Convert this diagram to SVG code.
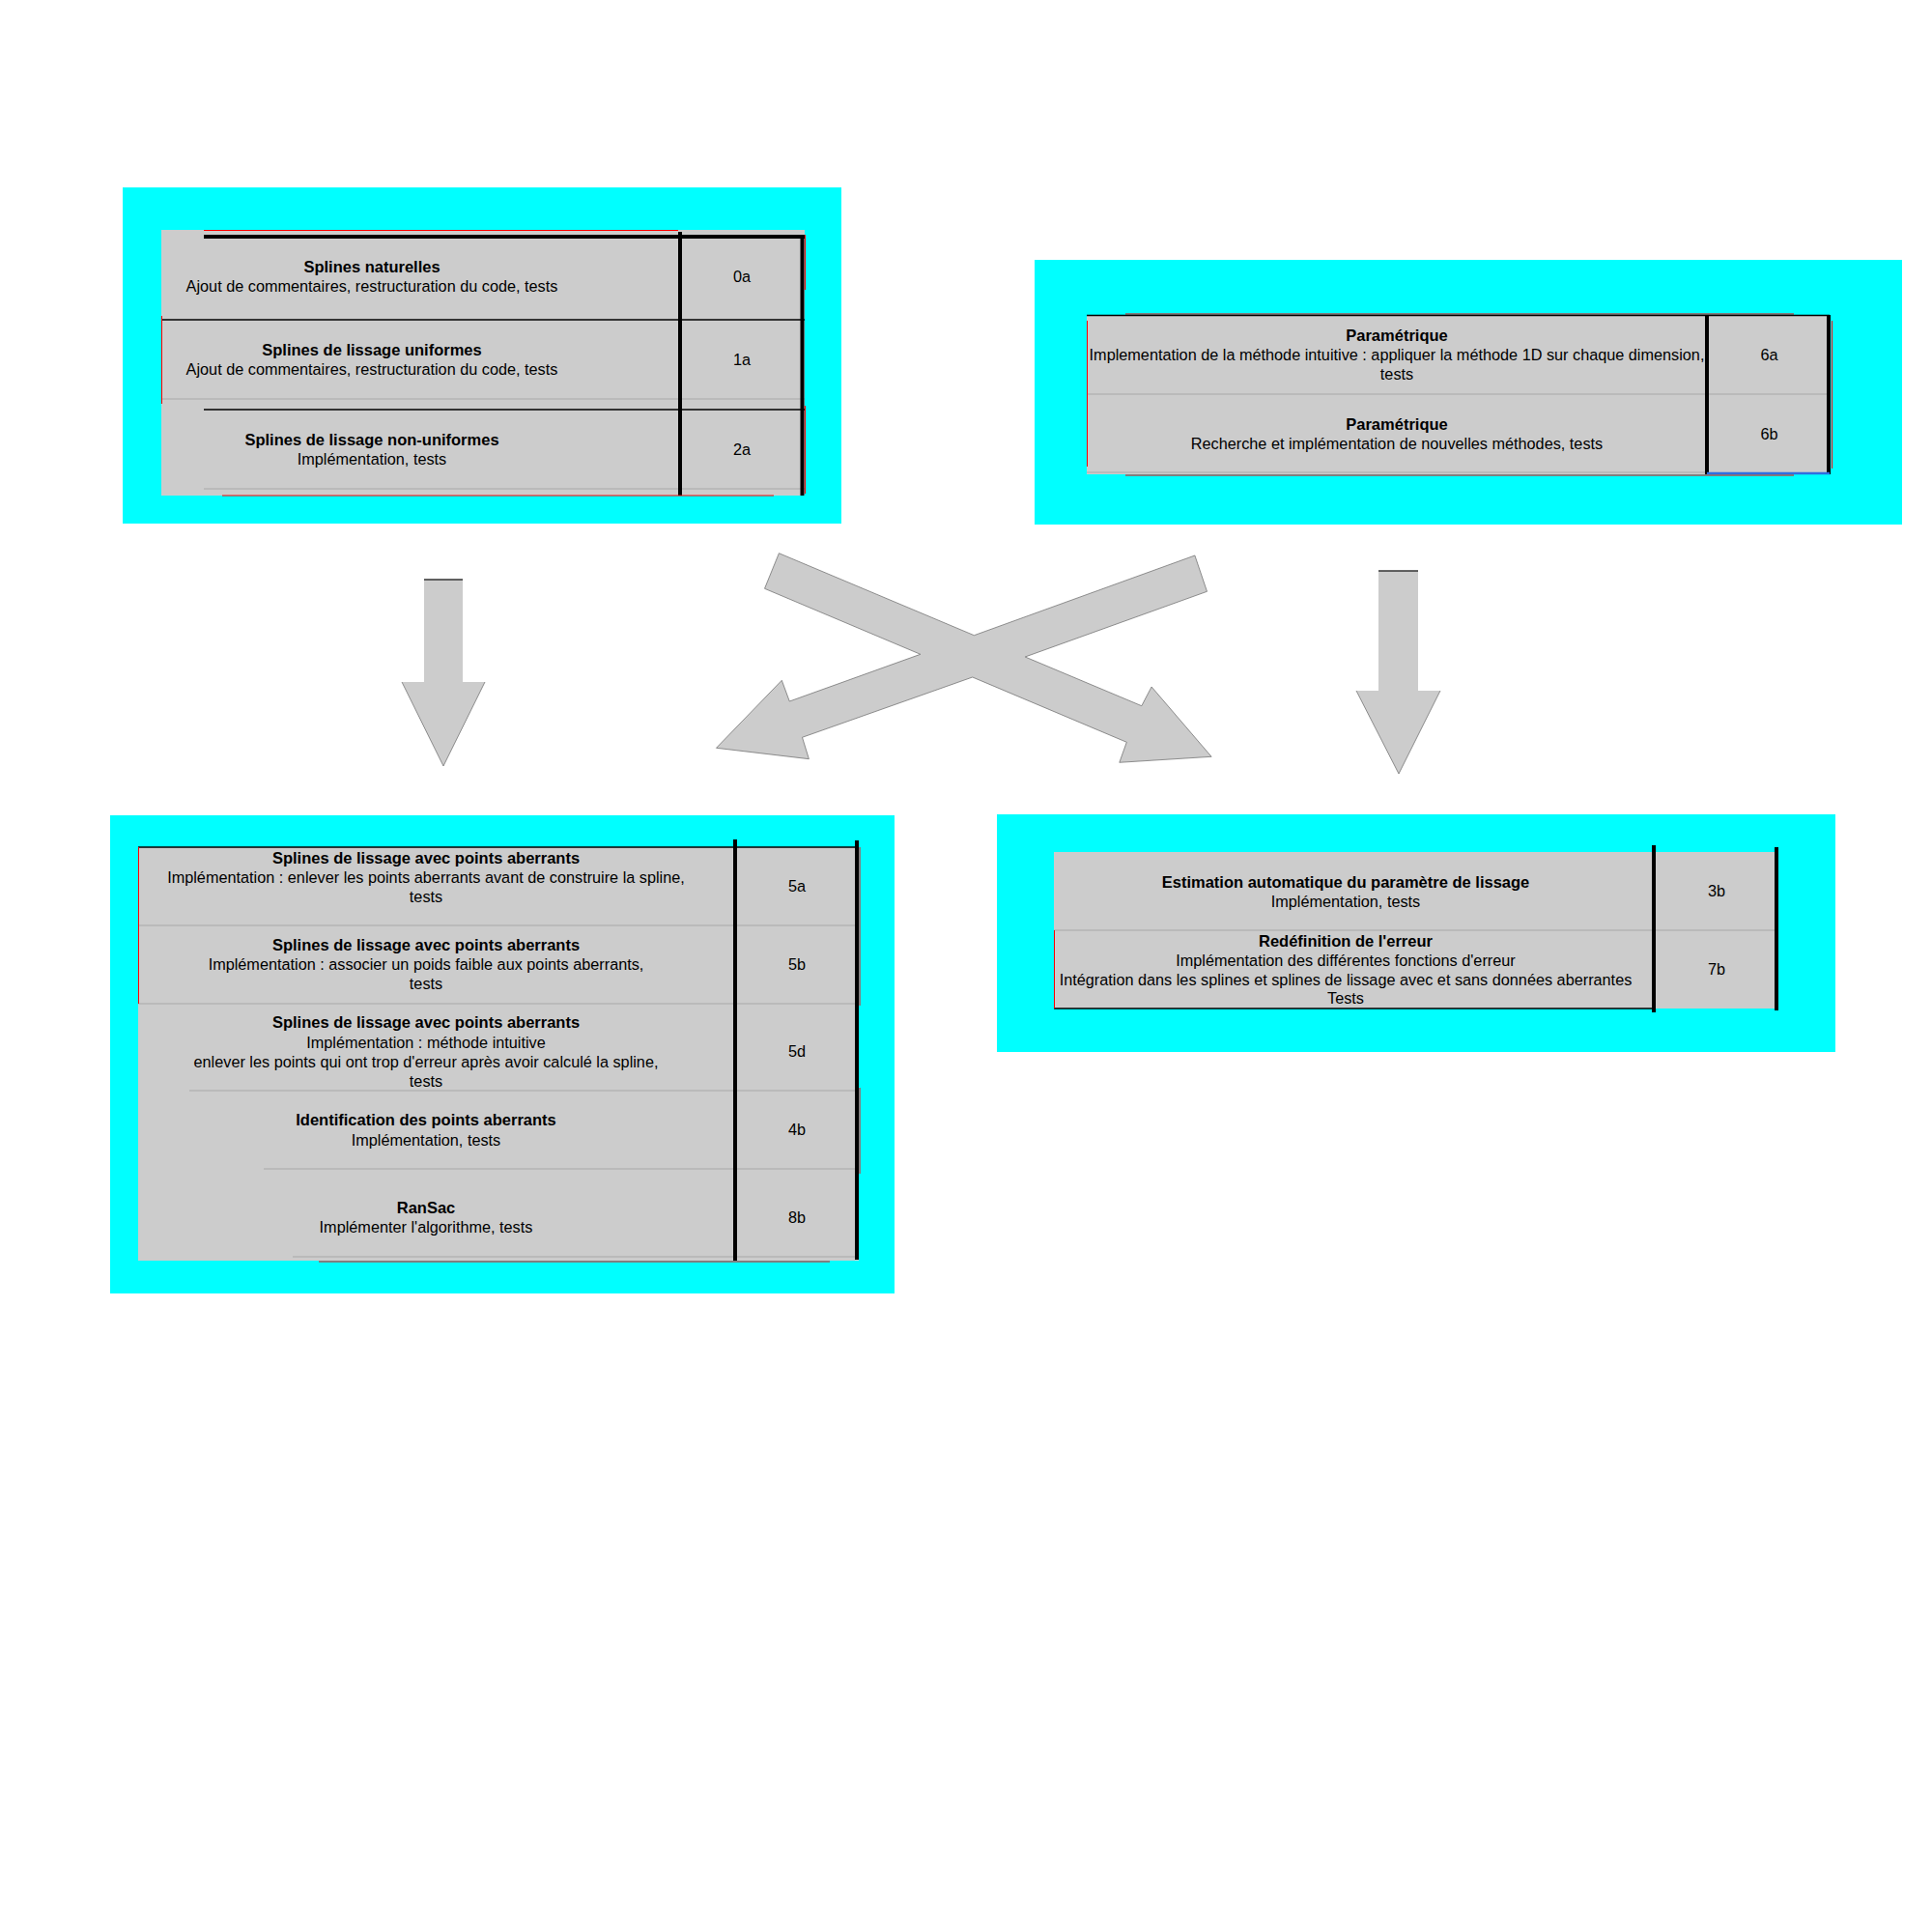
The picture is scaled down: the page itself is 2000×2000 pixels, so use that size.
<svg xmlns="http://www.w3.org/2000/svg" width="2000" height="2000" viewBox="0 0 2000 2000">
  <style>
    .panel { fill: #00FFFF; }
    .cell { fill: #CCCCCC; }
    .thick { stroke: #000; stroke-width: 4; fill: none; }
    .thin { stroke: #000; stroke-width: 1.5; fill: none; }
    .sep { stroke: #B4B4B4; stroke-width: 1.5; fill: none; }
    .red { stroke: #FF0000; stroke-width: 1; fill: none; }
    .blue { stroke: #2F6FE0; stroke-width: 2.5; fill: none; }
    text { font-family: "Liberation Sans", Arial, sans-serif; font-size: 16.25px; fill: #000; text-anchor: middle; }
    .b { font-weight: bold; font-size: 16.5px; }
    .arrow { fill: #CCCCCC; }
    .edge { fill: none; stroke: #666; stroke-width: 0.7; }
    .cap { stroke: #333; stroke-width: 1.5; }
  </style>

  <!-- Upper left block: splines 0a / 1a / 2a -->
  <g id="block-splines">
    <rect class="panel" x="127" y="194" width="744" height="348"/>
    <rect class="cell" x="167" y="238" width="666" height="275"/>
    <line class="red" x1="211" y1="238.5" x2="702" y2="238.5"/>
    <line class="thick" x1="211" y1="245" x2="833" y2="245"/>
    <line class="thin" x1="167" y1="331" x2="833" y2="331"/>
    <line class="sep" x1="167" y1="413" x2="833" y2="413"/>
    <line class="thin" x1="211" y1="424" x2="833" y2="424"/>
    <line class="sep" x1="211" y1="506" x2="833" y2="506"/>
    <line class="thick" x1="704" y1="240" x2="704" y2="513"/>
    <line class="thick" x1="830.5" y1="243" x2="830.5" y2="513"/>
    <line class="red" x1="230" y1="513" x2="801" y2="513"/>
    <line class="red" x1="167.5" y1="327" x2="167.5" y2="418"/>
    <line class="red" x1="833.5" y1="420" x2="833.5" y2="511"/>
    <line class="red" x1="833.5" y1="243" x2="833.5" y2="300"/>
    <text class="b" x="385" y="282">Splines naturelles</text>
    <text x="385" y="302">Ajout de commentaires, restructuration du code, tests</text>
    <text x="768" y="291.5">0a</text>
    <text class="b" x="385" y="367.5">Splines de lissage uniformes</text>
    <text x="385" y="387.5">Ajout de commentaires, restructuration du code, tests</text>
    <text x="768" y="377.5">1a</text>
    <text class="b" x="385" y="460.5">Splines de lissage non-uniformes</text>
    <text x="385" y="480.5">Implémentation, tests</text>
    <text x="768" y="470.5">2a</text>
  </g>

  <!-- Upper right block: parametric 6a / 6b -->
  <g id="block-parametrique">
    <rect class="panel" x="1071" y="269" width="898" height="274"/>
    <rect class="cell" x="1125" y="326" width="769" height="165"/>
    <line class="red" x1="1165" y1="325" x2="1857" y2="325"/>
    <line class="thin" x1="1125" y1="326.5" x2="1894" y2="326.5"/>
    <line class="sep" x1="1125" y1="408" x2="1894" y2="408"/>
    <line class="sep" x1="1125" y1="489" x2="1767" y2="489"/>
    <line class="thick" x1="1767" y1="326" x2="1767" y2="491"/>
    <line class="thick" x1="1893" y1="326" x2="1893" y2="491"/>
    <line class="blue" x1="1767" y1="490" x2="1894" y2="490"/>
    <line class="red" x1="1165" y1="492" x2="1857" y2="492"/>
    <line class="red" x1="1125.5" y1="332" x2="1125.5" y2="483"/>
    <line class="red" x1="1896.5" y1="332" x2="1896.5" y2="485"/>
    <text class="b" x="1446" y="353">Paramétrique</text>
    <text x="1446" y="373">Implementation de la méthode intuitive : appliquer la méthode 1D sur chaque dimension,</text>
    <text x="1446" y="393">tests</text>
    <text x="1831.5" y="373">6a</text>
    <text class="b" x="1446" y="445">Paramétrique</text>
    <text x="1446" y="465">Recherche et implémentation de nouvelles méthodes, tests</text>
    <text x="1831.5" y="455">6b</text>
  </g>

  <!-- Lower left block: outliers 5a / 5b / 5d / 4b / 8b -->
  <g id="block-aberrants">
    <rect class="panel" x="114" y="844" width="812" height="495"/>
    <rect class="cell" x="143" y="877" width="746" height="428"/>
    <line class="thin" x1="143" y1="877" x2="889" y2="877"/>
    <line class="sep" x1="143" y1="958" x2="889" y2="958"/>
    <line class="sep" x1="143" y1="1039" x2="889" y2="1039"/>
    <line class="sep" x1="196" y1="1129" x2="889" y2="1129"/>
    <line class="sep" x1="273" y1="1210" x2="889" y2="1210"/>
    <line class="sep" x1="303" y1="1301" x2="889" y2="1301"/>
    <line class="thick" x1="761" y1="869" x2="761" y2="1305"/>
    <line class="thick" x1="887" y1="870" x2="887" y2="1304"/>
    <line class="red" x1="143.5" y1="877" x2="143.5" y2="1039"/>
    <line class="red" x1="890" y1="877" x2="890" y2="1041"/>
    <line class="red" x1="890" y1="1126" x2="890" y2="1215"/>
    <line class="red" x1="330" y1="1306" x2="859" y2="1306"/>
    <text class="b" x="441" y="893.5">Splines de lissage avec points aberrants</text>
    <text x="441" y="913.5">Implémentation : enlever les points aberrants avant de construire la spline,</text>
    <text x="441" y="933.5">tests</text>
    <text x="825" y="923">5a</text>
    <text class="b" x="441" y="984">Splines de lissage avec points aberrants</text>
    <text x="441" y="1004">Implémentation : associer un poids faible aux points aberrants,</text>
    <text x="441" y="1024">tests</text>
    <text x="825" y="1004">5b</text>
    <text class="b" x="441" y="1064">Splines de lissage avec points aberrants</text>
    <text x="441" y="1084.5">Implémentation : méthode intuitive</text>
    <text x="441" y="1104.5">enlever les points qui ont trop d'erreur après avoir calculé la spline,</text>
    <text x="441" y="1124.5">tests</text>
    <text x="825" y="1093.5">5d</text>
    <text class="b" x="441" y="1165">Identification des points aberrants</text>
    <text x="441" y="1185.5">Implémentation, tests</text>
    <text x="825" y="1175">4b</text>
    <text class="b" x="441" y="1255.5">RanSac</text>
    <text x="441" y="1276">Implémenter l'algorithme, tests</text>
    <text x="825" y="1265.5">8b</text>
  </g>

  <!-- Lower right block: smoothing parameter 3b / error 7b -->
  <g id="block-erreur">
    <rect class="panel" x="1032" y="843" width="868" height="246"/>
    <rect class="cell" x="1091" y="882" width="748" height="162"/>
    <line class="sep" x1="1091" y1="963" x2="1839" y2="963"/>
    <line class="thin" x1="1091" y1="1044" x2="1712" y2="1044"/>
    <line class="thick" x1="1712" y1="875" x2="1712" y2="1048"/>
    <line class="thick" x1="1839" y1="877" x2="1839" y2="1046"/>
    <line class="red" x1="1091.5" y1="963" x2="1091.5" y2="1044"/>
    <text class="b" x="1393" y="919">Estimation automatique du paramètre de lissage</text>
    <text x="1393" y="939">Implémentation, tests</text>
    <text x="1777" y="928">3b</text>
    <text class="b" x="1393" y="979.5">Redéfinition de l'erreur</text>
    <text x="1393" y="999.5">Implémentation des différentes fonctions d'erreur</text>
    <text x="1393" y="1019.5">Intégration dans les splines et splines de lissage avec et sans données aberrantes</text>
    <text x="1393" y="1038.5">Tests</text>
    <text x="1777" y="1009">7b</text>
  </g>

  <!-- Block arrows between the blocks -->
  <g id="connectors">
    <g id="arrow-left-down">
      <polygon class="arrow" points="439,600 479,600 479,706 502,706 459,793 416,706 439,706"/>
      <polyline class="edge" points="502,706 459,793 416,706"/>
      <line class="cap" x1="439" y1="600" x2="479" y2="600"/>
    </g>
    <g id="arrow-cross">
      <polygon class="arrow edge" style="fill:#CCCCCC" points="806.4,572.7 1008.4,657.7 1236.9,575 1249.5,612.3 1061.2,680 1181.8,730.7 1192.1,711 1254.1,783.3 1158.8,789.3 1166.3,768.3 1006.7,701 830.5,763.3 837.4,785.7 741.5,774.3 809.3,704.3 817.3,726 952.8,677.3 791.5,609.3"/>
    </g>
    <g id="arrow-right-down">
      <polygon class="arrow" points="1427,591 1468,591 1468,715 1491,715 1448,801 1404,715 1427,715"/>
      <polyline class="edge" points="1491,715 1448,801 1404,715"/>
      <line class="cap" x1="1427" y1="591" x2="1468" y2="591"/>
    </g>
  </g>
</svg>
